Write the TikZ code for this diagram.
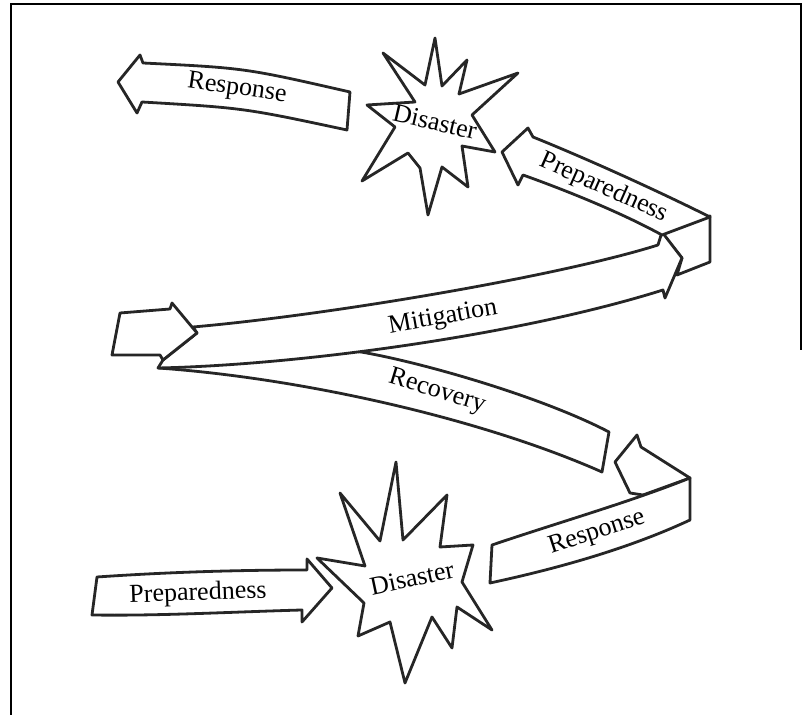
\documentclass[tikz,border=0pt]{standalone}
\usepackage{fontspec}
\setmainfont{Liberation Serif}
\begin{document}
\begin{tikzpicture}[x=0.5pt,y=-0.5pt,
  ribbon/.style={draw=black!85, fill=white, line width=1.4pt, line join=round},
  lbl/.style={font=\fontsize{13}{15}\selectfont, inner sep=0pt}]
\useasboundingbox (0,0) rectangle (811,715);
%%%%% Frame %%%%%
\draw[line width=1pt] (11,715)--(11,4)--(801,4)--(801,350);

%%%%% Recovery and Mitigation %%%%%
\draw[ribbon] (158,368) .. controls (300,378) and (480,418) .. (602,472)--(609,432)
  .. controls (540,396) and (420,362) .. (361,352)--(280,340)--cycle;
\draw[ribbon] (662,233)--(710,216)--(710,262)--(677,275)--(682,258)--cycle;
\draw[ribbon] (158,368) .. controls (300,365) and (520,335) .. (663,290)--(665,298)--(682,258)
  --(662,232)--(658,245) .. controls (560,276) and (330,315) .. (193,327)--(197,333)--(163,360)--cycle;
\draw[ribbon] (120,313)--(170,309)--(172,303)--(197,333)--(163,360)--(160,355)--(112,355)--cycle;

%%%%% Top: Preparedness, Response %%%%%
\draw[ribbon] (502,152)--(528,128)--(533,137) .. controls (590,160) and (660,192) .. (710,217)
  --(662,235) .. controls (620,212) and (565,190) .. (523,175)--(518,185)--cycle;
\draw[ribbon] (118,82)--(140,55)--(143,63) .. controls (245,68) .. (350,92)--(347,130)
  .. controls (244,108) .. (142,102)--(137,113)--cycle;

%%%%% Top Disaster %%%%%
\draw[ribbon] (435,38)--(442,86)--(467,60)--(459,94)--(518,73)--(472,115)--(495,152)--(462,146)
  --(468,187)--(442,167)--(428,215)--(420,168)--(408,153)--(362,181)--(395,127)--(367,105)
  --(415,102)--(383,53)--(425,85)--cycle;

%%%%% Bottom: Response, Preparedness %%%%%
\draw[ribbon] (643,495)--(630,493)--(615,462)--(637,435)--(641,447)--(690,478)--cycle;
\draw[ribbon] (492,545) .. controls (560,522) and (630,502) .. (690,478)--(690,520)
  .. controls (630,548) and (560,568) .. (490,583)--cycle;
\draw[ribbon] (97,577) .. controls (170,572) and (240,570) .. (307,570)--(307,559)--(332,588)
  --(302,622)--(302,610) .. controls (230,612) and (160,616) .. (92,615)--cycle;

%%%%% Bottom Disaster %%%%%
\draw[ribbon] (396,462)--(403,540)--(447,495)--(440,547)--(473,545)--(462,582)--(492,630)--(457,607)
  --(452,648)--(432,617)--(405,683)--(390,622)--(358,636)--(364,603)--(317,558)--(365,566)
  --(340,493)--(380,541)--cycle;

%%%%% Labels %%%%%
\node[lbl, rotate=-8] (respA) at (237,89) {Response};
\node[lbl, rotate=-13] (disA) at (435,122) {Disaster};
\node[lbl, rotate=-24] (prepA) at (604,188) {Preparedness};
\node[lbl, rotate=10] (mitig) at (443,318) {Mitigation};
\node[lbl, rotate=-17] (recov) at (437,392) {Recovery};
\node[lbl, rotate=18] (respB) at (597,533) {Response};
\node[lbl, rotate=12] (disB) at (412,578) {Disaster};
\node[lbl, rotate=2] (prepB) at (198,594) {Preparedness};

\end{tikzpicture}
\end{document}
